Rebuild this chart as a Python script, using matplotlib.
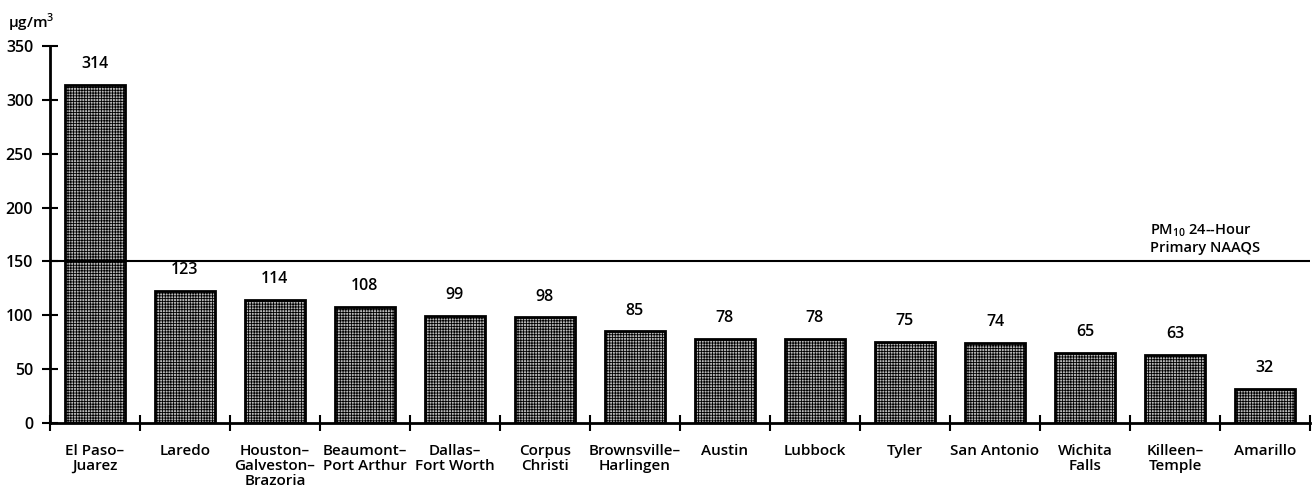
import matplotlib.pyplot as plt
import numpy as np

# PM10 second-highest 24-hour concentrations by metro area
areas = ['El Paso–\nJuarez', 'Laredo', 'Houston–\nGalveston–\nBrazoria',
         'Beaumont–\nPort Arthur', 'Dallas–\nFort Worth', 'Corpus\nChristi',
         'Brownsville–\nHarlingen', 'Austin', 'Lubbock', 'Tyler',
         'San Antonio', 'Wichita\nFalls', 'Killeen–\nTemple', 'Amarillo']
values = [314, 123, 114, 108, 99, 98, 85, 78, 78, 75, 74, 65, 63, 32]
naaqs = 150

plt.rcParams['font.family'] = ['Open Sans', 'DejaVu Sans']
plt.rcParams['font.weight'] = 'semibold'
plt.rcParams['mathtext.fontset'] = 'custom'
plt.rcParams['mathtext.rm'] = 'Open Sans:semibold'
plt.rcParams['hatch.linewidth'] = 0.6
plt.rcParams['hatch.color'] = '#4a4a4a'

fig = plt.figure(figsize=(13.13, 5), dpi=100)
ax = fig.add_axes([0.038, 0.154, 0.9597, 0.754])

x = np.arange(len(values))
ax.bar(x, values, width=0.67, facecolor='#b8b8b8', edgecolor='black',
       linewidth=2, hatch='++++++')

for xi, v in zip(x, values):
    ax.text(xi, v + 12, str(v), ha='center', va='bottom', fontsize=11.5)

# standard line
ax.axhline(naaqs, color='black', linewidth=1.5)
ax.text(11.72, naaqs + 6, 'PM$_{10}$ 24--Hour\nPrimary NAAQS', ha='left',
        va='bottom', fontsize=10.5, linespacing=1.15)

ax.set_xlim(-0.5, len(values) - 0.5)
ax.set_ylim(0, 350)
ax.set_yticks(range(0, 351, 50))
ax.set_xticks(np.arange(len(values) + 1) - 0.5)
ax.set_xticklabels([])
ax.set_xticks(x, minor=True)
ax.set_xticklabels(areas, minor=True, fontsize=11, linespacing=1.1)
ax.tick_params(axis='x', which='minor', length=0, pad=15)
ax.tick_params(axis='x', which='major', direction='inout', length=12, width=1.5)
ax.tick_params(axis='y', direction='inout', length=12, width=1.5, labelsize=11.5, pad=6)

for s in ['top', 'right']:
    ax.spines[s].set_visible(False)
for s in ['left', 'bottom']:
    ax.spines[s].set_linewidth(2)

fig.text(0.006, 0.955, 'μg/m$^3$', fontsize=11, ha='left', va='center')

plt.savefig('out.png', dpi=100)
